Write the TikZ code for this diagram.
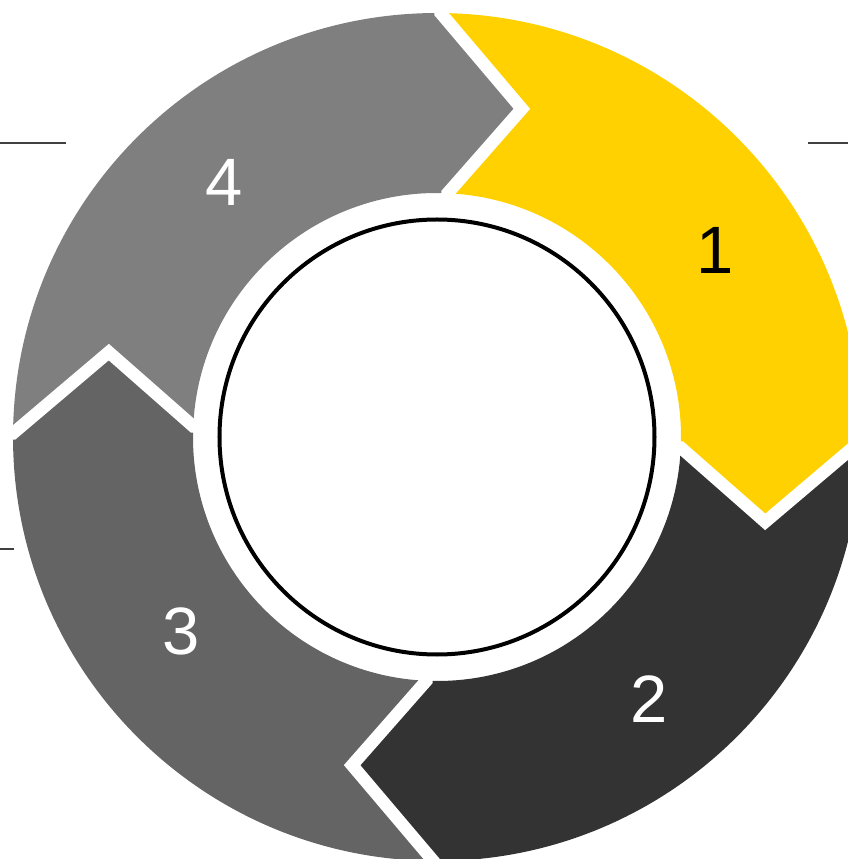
\documentclass[tikz,border=0pt]{standalone}
\usepackage{fontspec}
\setmainfont{Liberation Sans}
\definecolor{cyellow}{HTML}{FFD100}
\definecolor{cdark}{HTML}{333333}
\definecolor{cgraythree}{HTML}{646464}
\definecolor{cgrayfour}{HTML}{7F7F7F}
\definecolor{cline}{HTML}{404040}
\begin{document}
\begin{tikzpicture}[x=1pt,y=1pt,
  gapline/.style={draw=white,line width=12.5pt,line join=miter,miter limit=10},
  digit/.style={inner sep=0pt,font=\fontsize{67}{67}\selectfont},
  sideline/.style={draw=cline,line width=2pt}]
\useasboundingbox (-437,-422) rectangle (411,437);
\clip (-437,-422) rectangle (411,437);
\def\Ro{424}\def\Ri{244}\def\Rt{339}
% sectors: k=0 yellow,1 dark,2 gray3,3 gray4
\foreach \k/\col in {0/cyellow,1/cdark,2/cgraythree,3/cgrayfour}{
  \pgfmathsetmacro{\os}{89.5-90*\k}
  \pgfmathsetmacro{\oe}{89.5-90*(\k+1)}
  \pgfmathsetmacro{\is}{87.5-90*\k}
  \pgfmathsetmacro{\ie}{87.5-90*(\k+1)}
  \pgfmathsetmacro{\ts}{75.5-90*\k}
  \pgfmathsetmacro{\te}{75.5-90*(\k+1)}
  \fill[\col] (\os:\Ro) arc[start angle=\os,end angle=\oe,radius=\Ro]
    -- (\te:\Rt) -- (\ie:\Ri) arc[start angle=\ie,end angle=\is,radius=\Ri]
    -- (\ts:\Rt) -- cycle;
}
% white gaps
\foreach \k in {0,1,2,3}{
  \pgfmathsetmacro{\os}{89.5-90*\k}
  \pgfmathsetmacro{\is}{87.5-90*\k}
  \pgfmathsetmacro{\ts}{75.5-90*\k}
  \draw[gapline] (\os:\Ro+20) -- (\os:\Ro) -- (\ts:\Rt) -- (\is:\Ri) -- (\is:\Ri-15);
}
% hub
\node[circle,draw=black,fill=white,line width=4pt,minimum size=435pt,inner sep=0pt] (hub) at (0,0) {};
% labels
\node[digit,text=white] (n4) at (-212.5,255) {4};
\node[digit,text=black] (n1) at (278,187) {1};
\node[digit,text=white] (n3) at (-256,-194) {3};
\node[digit,text=white] (n2) at (212,-262) {2};
% side lines
\coordinate (l1a) at (-437,294); \coordinate (l1b) at (-371,294);
\coordinate (l2a) at (371,294); \coordinate (l2b) at (411,294);
\coordinate (l3a) at (-437,-112); \coordinate (l3b) at (-423,-112);
\draw[sideline] (l1a) -- (l1b);
\draw[sideline] (l2a) -- (l2b);
\draw[sideline] (l3a) -- (l3b);
\end{tikzpicture}
\end{document}
